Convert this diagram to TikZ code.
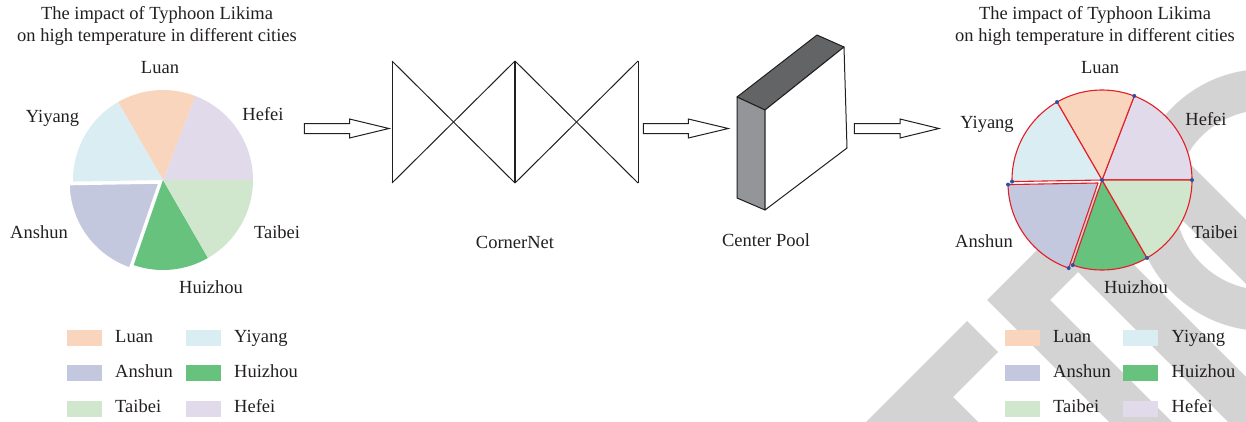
\documentclass[tikz,border=0pt]{standalone}
\usepackage{fontspec}
\setmainfont{Liberation Serif}
\usetikzlibrary{calc}
\definecolor{ink}{HTML}{231F20}
\definecolor{cLuan}{HTML}{FAD5BE}
\definecolor{cYiyang}{HTML}{DAEDF2}
\definecolor{cHefei}{HTML}{E1DAEA}
\definecolor{cTaibei}{HTML}{D0E7CE}
\definecolor{cHuizhou}{HTML}{66C27C}
\definecolor{cAnshun}{HTML}{C4C8DF}
\definecolor{wmgray}{HTML}{D3D3D3}
\definecolor{pred}{HTML}{E31E26}
\definecolor{pblue}{HTML}{2E4FA3}
\definecolor{faceL}{HTML}{939598}
\definecolor{faceT}{HTML}{636466}
\newcommand\pslice[4]{\path[#4] (#1) -- +(#2:90) arc[start angle=#2,end angle=#3,radius=90] -- cycle;}
\newcommand\blockarr[3]{\draw[blk] (#1,-123.5) -- (#2,-123.5) -- (#2,-119) -- (#3,-128.5) -- (#2,-138) -- (#2,-133.5) -- (#1,-133.5) -- cycle;}
\begin{document}
\begin{tikzpicture}[x=1pt,y=1pt,
  lbl/.style={font=\fontsize{18.5}{22}\selectfont, text=ink, inner sep=0pt, anchor=base},
  lgt/.style={font=\fontsize{18.5}{22}\selectfont, text=ink, inner sep=0pt, anchor=base west},
  legbox/.style={minimum width=35pt, minimum height=16pt, inner sep=0pt, draw=none},
  blk/.style={draw=ink, line width=1pt, fill=white, line join=miter},
  ln/.style={draw=ink, line width=1pt},
  redl/.style={draw=pred, line width=1.1pt, line join=round},
  dot/.style={fill=pblue}]
\useasboundingbox (0,0) rectangle (1246,-421);
% watermark
\begin{scope}
\clip (0,0) rectangle (1246,-421);
\fill[wmgray, even odd rule] (1265,-200) circle (131) (1265,-200) circle (90);
\fill[wmgray] (1126,-164) -- (1158,-132) -- (1363,-337) -- (1331,-369) -- cycle;
\fill[wmgray] (967,-321) -- (998,-352) -- (953,-397) -- (1010,-454) -- (834,-454) -- cycle;
\fill[wmgray] (987,-300) -- (1103.5,-183.5) -- (1135,-215) -- (1109.5,-240.5) -- (1334.5,-465.5)
  -- (1303,-497) -- (1078,-272) -- (1050,-300) -- (1275,-525) -- (1243.5,-556.5) -- cycle;
\end{scope}
% left title
\node[lbl] (t1a) at (157,-19.5) {The impact of Typhoon Likima};
\node[lbl] (t1b) at (157,-41) {on high temperature in different cities};
% left pie
\pslice{163,-180}{0}{69}{fill=cHefei}
\pslice{163,-180}{69}{120}{fill=cLuan}
\pslice{163,-180}{120}{181}{fill=cYiyang}
\pslice{163,-180}{251}{300}{fill=cHuizhou}
\pslice{163,-180}{300}{360}{fill=cTaibei}
\pslice{159,-183}{181}{251}{fill=cAnshun, draw=white, line width=1.5pt}
\node[lbl] (l1) at (160,-73) {Luan};
\node[lbl] (l2) at (263,-120) {Hefei};
\node[lbl] (l3) at (52.5,-122) {Yiyang};
\node[lbl] (l4) at (39,-238) {Anshun};
\node[lbl] (l5) at (277,-238) {Taibei};
\node[lbl] (l6) at (211,-293) {Huizhou};
% left legend
\node[legbox, fill=cLuan] (lb1) at (84.5,-338) {};
\node[legbox, fill=cAnshun] (lb2) at (84.5,-373) {};
\node[legbox, fill=cTaibei] (lb3) at (84.5,-408.7) {};
\node[legbox, fill=cYiyang] (lb4) at (203.5,-338) {};
\node[legbox, fill=cHuizhou] (lb5) at (203.5,-373) {};
\node[legbox, fill=cHefei] (lb6) at (203.5,-408.7) {};
\node[lgt] (lt1) at (115,-342.3) {Luan};
\node[lgt] (lt2) at (115,-377) {Anshun};
\node[lgt] (lt3) at (115,-412.7) {Taibei};
\node[lgt] (lt4) at (234,-342.3) {Yiyang};
\node[lgt] (lt5) at (234,-377) {Huizhou};
\node[lgt] (lt6) at (234,-412.7) {Hefei};
% arrows
\blockarr{304.3}{349.5}{389}
\blockarr{643.3}{688.3}{728.3}
\blockarr{854.3}{900}{939}
% CornerNet
\draw[ln] (392,-61) -- (392,-183);
\draw[ln] (638,-61) -- (638,-183);
\draw[ln] (392,-61) -- (515,-183);
\draw[ln] (392,-183) -- (515,-61);
\draw[ln] (515,-61) -- (638,-183);
\draw[ln] (515,-183) -- (638,-61);
\draw[ln, line width=1.8pt] (515,-61) -- (515,-183);
\node[lbl] (cn) at (515,-248) {CornerNet};
% Center Pool box
\draw[ln, fill=faceT, line join=round] (737,-97) -- (817,-35) -- (844,-47) -- (765,-110) -- cycle;
\draw[ln, fill=faceL, line join=round] (737,-97) -- (765,-110) -- (765,-210) -- (737,-198) -- cycle;
\draw[ln, fill=white, line join=round] (765,-110) -- (844,-47) -- (847,-148) -- (765,-210) -- cycle;
\node[lbl] (cp) at (766,-246.5) {Center Pool};
% right title
\node[lbl] (t2a) at (1095,-19.5) {The impact of Typhoon Likima};
\node[lbl] (t2b) at (1095,-41) {on high temperature in different cities};
% right pie
\pslice{1102,-180}{0}{69}{fill=cHefei, redl}
\pslice{1102,-180}{69}{120}{fill=cLuan, redl}
\pslice{1102,-180}{120}{181}{fill=cYiyang, redl}
\pslice{1102,-180}{251}{300}{fill=cHuizhou, redl}
\pslice{1102,-180}{300}{360}{fill=cTaibei, redl}
\pslice{1098,-183}{181}{251}{fill=cAnshun, redl}
\fill[dot] (1102,-180) circle (2);
\foreach \a in {0,69,120,181,251,300} \fill[dot] ($(1102,-180)+(\a:90)$) circle (2);
\foreach \a in {181,251} \fill[dot] ($(1098,-183)+(\a:90)$) circle (2);
\node[lbl] (r1) at (1100,-73) {Luan};
\node[lbl] (r2) at (1206,-125) {Hefei};
\node[lbl] (r3) at (987,-128.7) {Yiyang};
\node[lbl] (r4) at (984,-247) {Anshun};
\node[lbl] (r5) at (1215,-238) {Taibei};
\node[lbl] (r6) at (1136,-293) {Huizhou};
% right legend
\node[legbox, fill=cLuan] (rb1) at (1022.5,-338) {};
\node[legbox, fill=cAnshun] (rb2) at (1022.5,-373) {};
\node[legbox, fill=cTaibei] (rb3) at (1022.5,-408.7) {};
\node[legbox, fill=cYiyang] (rb4) at (1140.5,-338) {};
\node[legbox, fill=cHuizhou] (rb5) at (1140.5,-373) {};
\node[legbox, fill=cHefei] (rb6) at (1140.5,-408.7) {};
\node[lgt] (rt1) at (1053,-342.3) {Luan};
\node[lgt] (rt2) at (1053,-377) {Anshun};
\node[lgt] (rt3) at (1053,-412.7) {Taibei};
\node[lgt] (rt4) at (1171.5,-342.3) {Yiyang};
\node[lgt] (rt5) at (1171.5,-377) {Huizhou};
\node[lgt] (rt6) at (1171.5,-412.7) {Hefei};
\end{tikzpicture}
\end{document}
